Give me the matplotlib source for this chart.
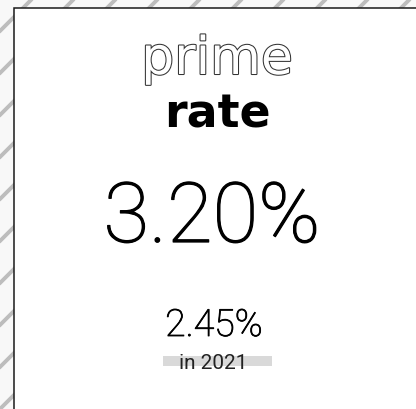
import matplotlib.pyplot as plt
import matplotlib.patheffects as pe
from matplotlib.patches import Rectangle

# card contents
title_top = "prime"
title_bottom = "rate"
current_value = 3.20
previous_value = 2.45
previous_year = 2021

W, H = 416, 410
fig = plt.figure(figsize=(W / 100, H / 100), dpi=100)
fig.patch.set_facecolor('#f8f8f8')
ax = fig.add_axes([0, 0, 1, 1])
ax.set_xlim(0, W)
ax.set_ylim(H, 0)
ax.axis('off')

# diagonal stripes in the background
for c in range(32 - 42 * 10, W + H, 42):
    ax.plot([c, c - H - 20], [0, H + 20], color='#bdbdbd', lw=2.8,
            solid_capstyle='butt', zorder=0)

# white card with dark border (runs off the right / bottom edge)
ax.add_patch(Rectangle((14, 9), W, H, facecolor='white', edgecolor='#1a1a1a',
                       lw=1.1, zorder=1))

cx = 217
ax.text(cx, 75, title_top, ha='center', va='baseline', fontsize=37.5,
        family='DejaVu Sans', color='white', zorder=3,
        path_effects=[pe.withStroke(linewidth=1.5, foreground='#333333')])
ax.text(cx, 127, title_bottom, ha='center', va='baseline', fontsize=33,
        family='DejaVu Sans', fontweight='bold', color='black', zorder=3)

# thin numbers, thickened slightly with a stroke
thick = [pe.withStroke(linewidth=0.9, foreground='black')]
ax.text(cx - 5, 243, f"{current_value:.2f}%", ha='center', va='baseline',
        fontsize=60, family='Roboto', fontweight='light', color='black',
        zorder=3, path_effects=thick)

ax.text(cx - 3, 337, f"{previous_value:.2f}%", ha='center', va='baseline',
        fontsize=27, family='Roboto', fontweight='light', color='black',
        zorder=3, path_effects=[pe.withStroke(linewidth=0.6, foreground='black')])

ax.add_patch(Rectangle((163, 357), 109, 10, facecolor='#d9d9d9', edgecolor='none',
                       zorder=2))
ax.text(cx - 4, 369, f"in {previous_year}", ha='center', va='baseline',
        fontsize=15, family='Roboto', color='#222222', zorder=3)

fig.savefig('out.png', dpi=100, facecolor=fig.get_facecolor())
